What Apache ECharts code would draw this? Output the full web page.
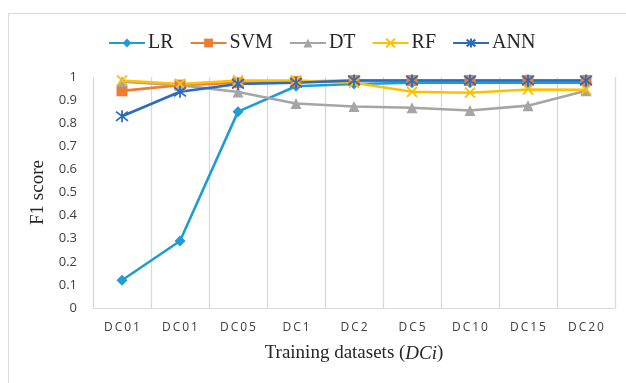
<!DOCTYPE html>
<html><head><meta charset="utf-8">
<script src="https://cdn.jsdelivr.net/npm/echarts@6/dist/echarts.min.js"></script>
<style>html,body{margin:0;padding:0;background:#fff}#c{width:626px;height:383px}</style>
</head><body><div id="c"></div>
<script>
const categories = ['DC01','DC01','DC05','DC1','DC2','DC5','DC10','DC15','DC20'];
const LR  = [0.12, 0.29, 0.85, 0.96, 0.97, 0.975, 0.975, 0.975, 0.975];
const SVM = [0.94, 0.965, 0.975, 0.98, 0.985, 0.985, 0.985, 0.985, 0.985];
const DT  = [0.98, 0.965, 0.935, 0.885, 0.872, 0.867, 0.855, 0.876, 0.94];
const RF  = [0.985, 0.97, 0.985, 0.985, 0.975, 0.936, 0.932, 0.946, 0.945];
const ANN = [0.83, 0.936, 0.97, 0.975, 0.985, 0.985, 0.985, 0.985, 0.985];
const yTicks = [0, 0.1, 0.2, 0.3, 0.4, 0.5, 0.6, 0.7, 0.8, 0.9, 1];

const crossPath = 'path://M0,0L10,10M10,0L0,10';
const starPath = 'path://M0,0L10,10M10,0L0,10M5,-1.5L5,11.5';

function mk(name, data, color, symbol, size, stroke) {
  return {
    name, type: 'line', data, symbol, symbolSize: size,
    showSymbol: true,
    lineStyle: { color, width: 2.6 },
    itemStyle: stroke ? { color: 'none', borderColor: color, borderWidth: 1.8 } : { color, borderColor: color, borderWidth: 0 },
    emphasis: { disabled: true },
    animation: false
  };
}

const chart = echarts.init(document.getElementById('c'), null, { renderer: 'canvas' });
chart.setOption({
  animation: false,
  graphic: [{
    type: 'rect', shape: { x: 8.5, y: 13.5, width: 640, height: 400 },
    style: { fill: 'none', stroke: '#d9d9d9', lineWidth: 1 }, silent: true, z: -10
  }],
  legend: {
    top: 28, left: 103, itemWidth: 36, itemHeight: 11, itemGap: 16,
    textStyle: { fontFamily: 'Liberation Serif', fontSize: 20, color: '#262626', padding: [0, 0, 0, -2] },
    data: ['LR','SVM','DT','RF','ANN']
  },
  grid: { left: 93, right: 11, top: 77, bottom: 75, containLabel: false },
  xAxis: {
    type: 'category', data: categories, boundaryGap: true,
    axisLine: { show: true, lineStyle: { color: '#d9d9d9', width: 1 } },
    axisTick: { show: false },
    splitLine: { show: true, lineStyle: { color: '#d9d9d9', width: 1.3 } },
    axisLabel: {
      interval: 0, margin: 14, color: '#404040', fontFamily: 'Open Sans', fontSize: 12,
      formatter: v => v.split('').join('\u2009')
    },
    name: 'Training datasets ({i|DCi})', nameLocation: 'middle', nameGap: 36,
    nameTextStyle: {
      fontFamily: 'Liberation Serif', fontSize: 19, color: '#262626',
      rich: { i: { fontFamily: 'Liberation Serif', fontSize: 19, fontStyle: 'italic', color: '#262626' } }
    }
  },
  yAxis: {
    type: 'value', min: 0, max: 1, interval: 0.1,
    axisLine: { show: false },
    axisTick: { show: false },
    splitLine: { show: false },
    axisLabel: {
      margin: 16, color: '#404040', fontFamily: 'Open Sans', fontSize: 13,
      formatter: v => { const t = yTicks.find(x => Math.abs(x - v) < 1e-9); return t === undefined ? '' : String(t); }
    },
    name: 'F1 score', nameLocation: 'middle', nameGap: 44, nameRotate: 90,
    nameTextStyle: { fontFamily: 'Liberation Serif', fontSize: 19, color: '#262626' }
  },
  series: [
    mk('LR', LR, '#1F9BD8', 'diamond', 11, false),
    mk('SVM', SVM, '#ED7D31', 'rect', 11, false),
    mk('DT', DT, '#A5A5A5', 'triangle', 11, false),
    mk('RF', RF, '#FFC000', crossPath, 10, true),
    mk('ANN', ANN, '#2A6CC2', starPath, 12, true)
  ]
});
</script></body></html>
